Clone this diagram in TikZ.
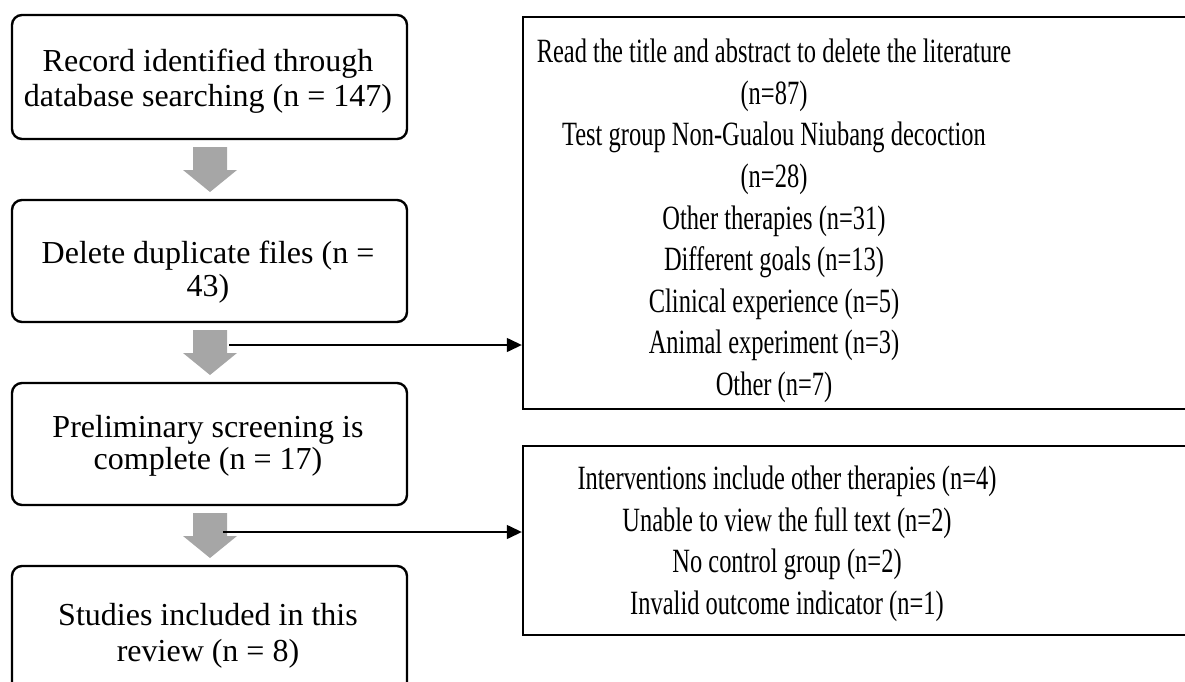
\documentclass[tikz,border=0pt]{standalone}
\usepackage{fontspec}
\setmainfont{Liberation Serif}
\newfontfamily\leftfont{Liberation Serif}
\newfontfamily\rightfont[FakeStretch=0.72]{Liberation Serif}
\usetikzlibrary{arrows.meta}
\definecolor{arrowgray}{HTML}{A6A6A6}
\tikzset{
  leftbox/.style={draw, line width=2.4pt, rounded corners=10pt, minimum width=395pt, minimum height=#1, inner sep=0pt},
  lefttext/.style={align=center, inner sep=0pt, font={\leftfont\fontsize{32}{#1}\selectfont}},
  rightbox/.style={draw, line width=2.4pt, minimum width=667pt, minimum height=#1, inner sep=0pt},
  righttext/.style={align=center, inner sep=0pt, font={\rightfont\fontsize{34}{41.6}\selectfont}},
  conn/.style={line width=1.4pt, -{Triangle[length=15pt,width=14pt]}},
  grayarrow/.style={fill=arrowgray, draw=none}
}
\begin{document}
\begin{tikzpicture}[x=1pt,y=-1pt]
\useasboundingbox (0,0) rectangle (1185,682);
% left boxes
\node[leftbox=124pt] (b1) at (209.5,77) {};
\node[lefttext=35.3] (l1) at (208,81.5) {Record identified through\\database searching (n = 147)};
\node[leftbox=122pt] (b2) at (209.5,261) {};
\node[lefttext=33] (l2) at (208,272.5) {Delete duplicate files (n =\\43)};
\node[leftbox=122pt] (b3) at (209.5,444) {};
\node[lefttext=32] (l3) at (208,446) {Preliminary screening is\\complete (n = 17)};
\node[leftbox=126pt] (b4) at (209.5,629) {};
\node[lefttext=36] (l4) at (208,636) {Studies included in this\\review (n = 8)};
% right boxes
\node[rightbox=392pt] (r1) at (856.5,213) {};
\node[righttext] (t1) at (774,221) {Read the title and abstract to delete the literature\\(n=87)\\Test group Non-Gualou Niubang decoction\\(n=28)\\Other therapies (n=31)\\Different goals (n=13)\\Clinical experience (n=5)\\Animal experiment (n=3)\\Other (n=7)};
\node[rightbox=189pt] (r2) at (856.5,540.5) {};
\node[righttext] (t2) at (787,544) {Interventions include other therapies (n=4)\\Unable to view the full text (n=2)\\No control group (n=2)\\Invalid outcome indicator (n=1)};
% gray down arrows
\fill[grayarrow] (193,147) -- (227,147) -- (227,170) -- (237,170) -- (210,192) -- (183,170) -- (193,170) -- cycle;
\fill[grayarrow] (193,330) -- (227,330) -- (227,353) -- (237,353) -- (210,375) -- (183,353) -- (193,353) -- cycle;
\fill[grayarrow] (193,513) -- (227,513) -- (227,536) -- (237,536) -- (210,558) -- (183,536) -- (193,536) -- cycle;
% connectors
\coordinate (s1) at (229,345);
\coordinate (s2) at (223,532);
\draw[conn] (s1) -- (s1 -| r1.west);
\draw[conn] (s2) -- (s2 -| r2.west);
\end{tikzpicture}
\end{document}
